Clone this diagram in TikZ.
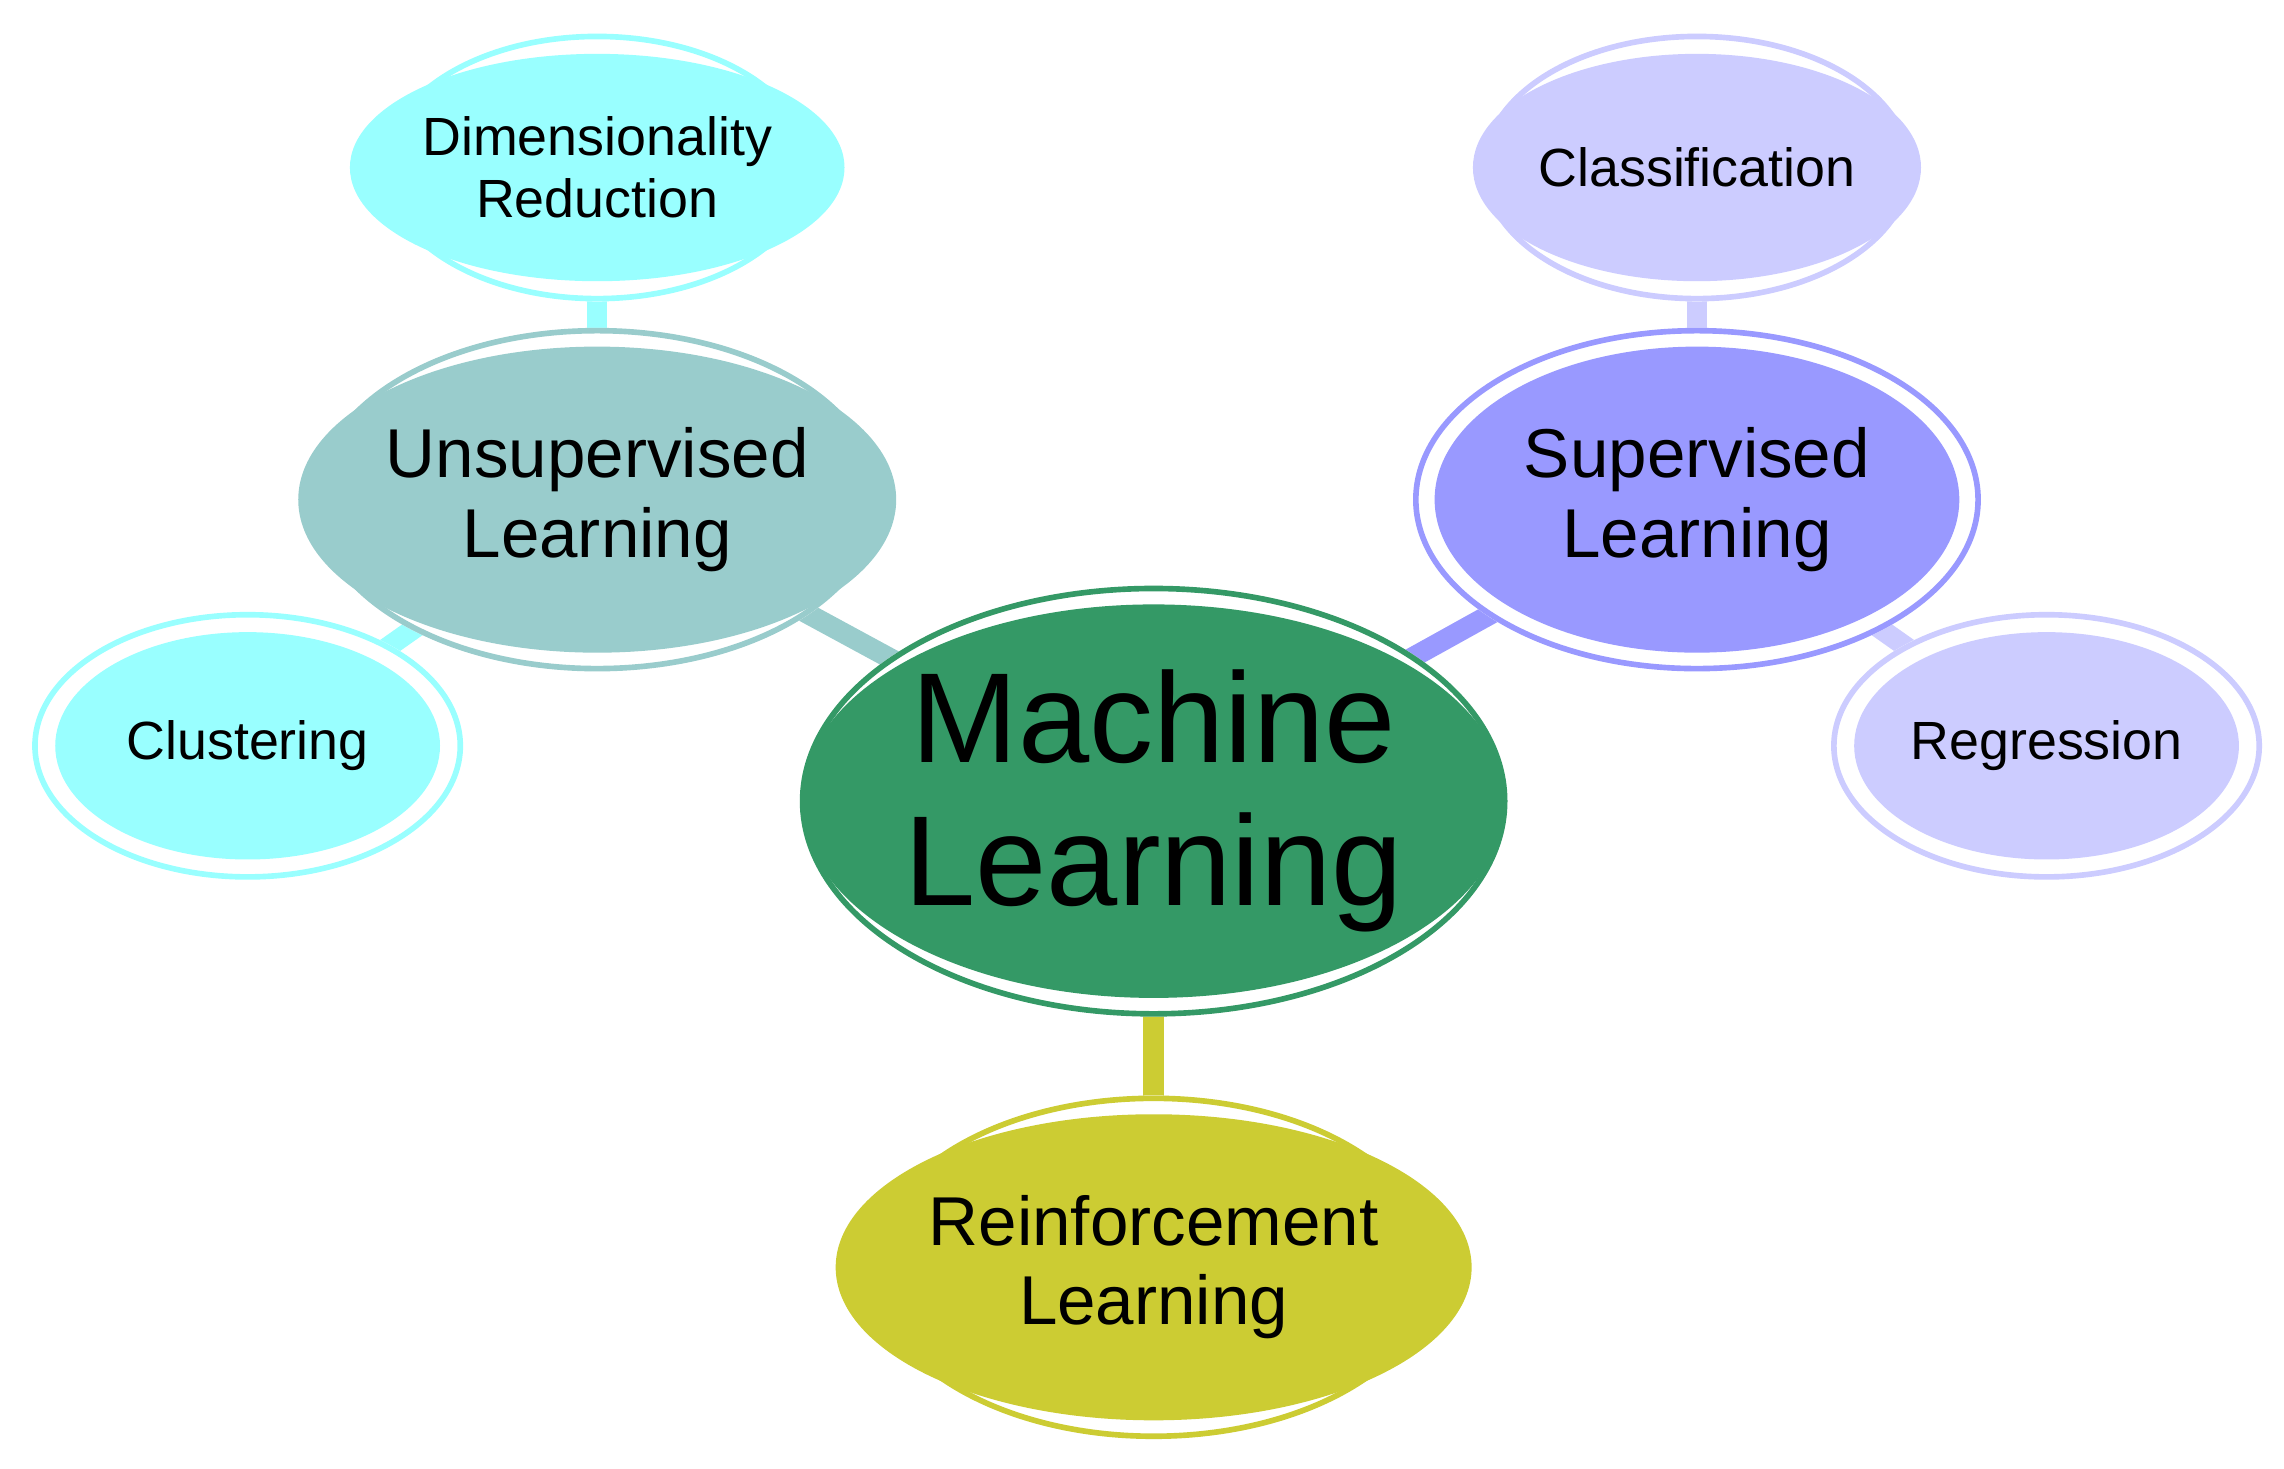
\documentclass[tikz,border=0pt]{standalone}
\usepackage{fontspec}
\setmainfont{Liberation Sans}
\usetikzlibrary{shapes.geometric}
\definecolor{mlgreen}{RGB}{52,153,102}
\definecolor{unsupc}{RGB}{153,204,204}
\definecolor{supc}{RGB}{153,153,255}
\definecolor{reinc}{RGB}{204,204,51}
\definecolor{cyanc}{RGB}{153,255,255}
\definecolor{lilac}{RGB}{204,204,255}
\tikzset{
  bubble/.style={ellipse,fill=#1,inner sep=0pt,align=center},
  big/.style={minimum width=4.56cm,minimum height=2.7cm,font=\fontsize{25}{28}\selectfont},
  mid/.style={minimum width=3.6cm,minimum height=2.1cm,font=\fontsize{13.5}{15.5}\selectfont},
  small/.style={minimum width=2.64cm,minimum height=1.56cm,font=\fontsize{10.5}{12.2}\selectfont},
  ring/.style={draw=#1,line width=1.1pt},
  link/.style={draw=#1,line width=4pt}
}
\begin{document}
\begin{tikzpicture}[x=0.01cm,y=-0.01cm]
  \useasboundingbox (0,0) rectangle (1568,1008);
  % centres
  \coordinate (ml) at (792,550);
  \coordinate (uns) at (410,343);
  \coordinate (sup) at (1165,343);
  \coordinate (rein) at (792,870);
  \coordinate (dim) at (410,115);
  \coordinate (clu) at (170,512);
  \coordinate (cla) at (1165,115);
  \coordinate (reg) at (1405,512);
  % links
  \draw[link=unsupc] (ml) -- (uns);
  \draw[link=supc] (ml) -- (sup);
  \draw[link=reinc] (ml) -- (rein);
  \draw[link=cyanc] (uns) -- (dim);
  \draw[link=cyanc] (uns) -- (clu);
  \draw[link=lilac] (sup) -- (cla);
  \draw[link=lilac] (sup) -- (reg);
  % rings
  \fill[white] (ml) ellipse (243 and 148);
  \draw[ring=mlgreen] (ml) ellipse (241 and 146);
  \foreach \p/\c in {uns/unsupc,sup/supc,rein/reinc}{
    \fill[white] (\p) ellipse (195 and 118);
    \draw[ring=\c] (\p) ellipse (193 and 116);
  }
  \foreach \p/\c in {dim/cyanc,clu/cyanc,cla/lilac,reg/lilac}{
    \fill[white] (\p) ellipse (148 and 92);
    \draw[ring=\c] (\p) ellipse (146 and 90);
  }
  % bubbles
  \node[bubble=mlgreen,big] (machine) at (ml) {Machine\\Learning};
  \node[bubble=unsupc,mid] (unsup) at (uns) {Unsupervised\\Learning};
  \node[bubble=supc,mid] (super) at (sup) {Supervised\\Learning};
  \node[bubble=reinc,mid] (reinforce) at (rein) {Reinforcement\\Learning};
  \node[bubble=cyanc,small] (dimred) at (dim) {Dimensionality\\Reduction};
  \node[bubble=cyanc,small] (cluster) at (clu) {Clustering};
  \node[bubble=lilac,small] (classif) at (cla) {Classification};
  \node[bubble=lilac,small] (regress) at (reg) {Regression};
\end{tikzpicture}
\end{document}
